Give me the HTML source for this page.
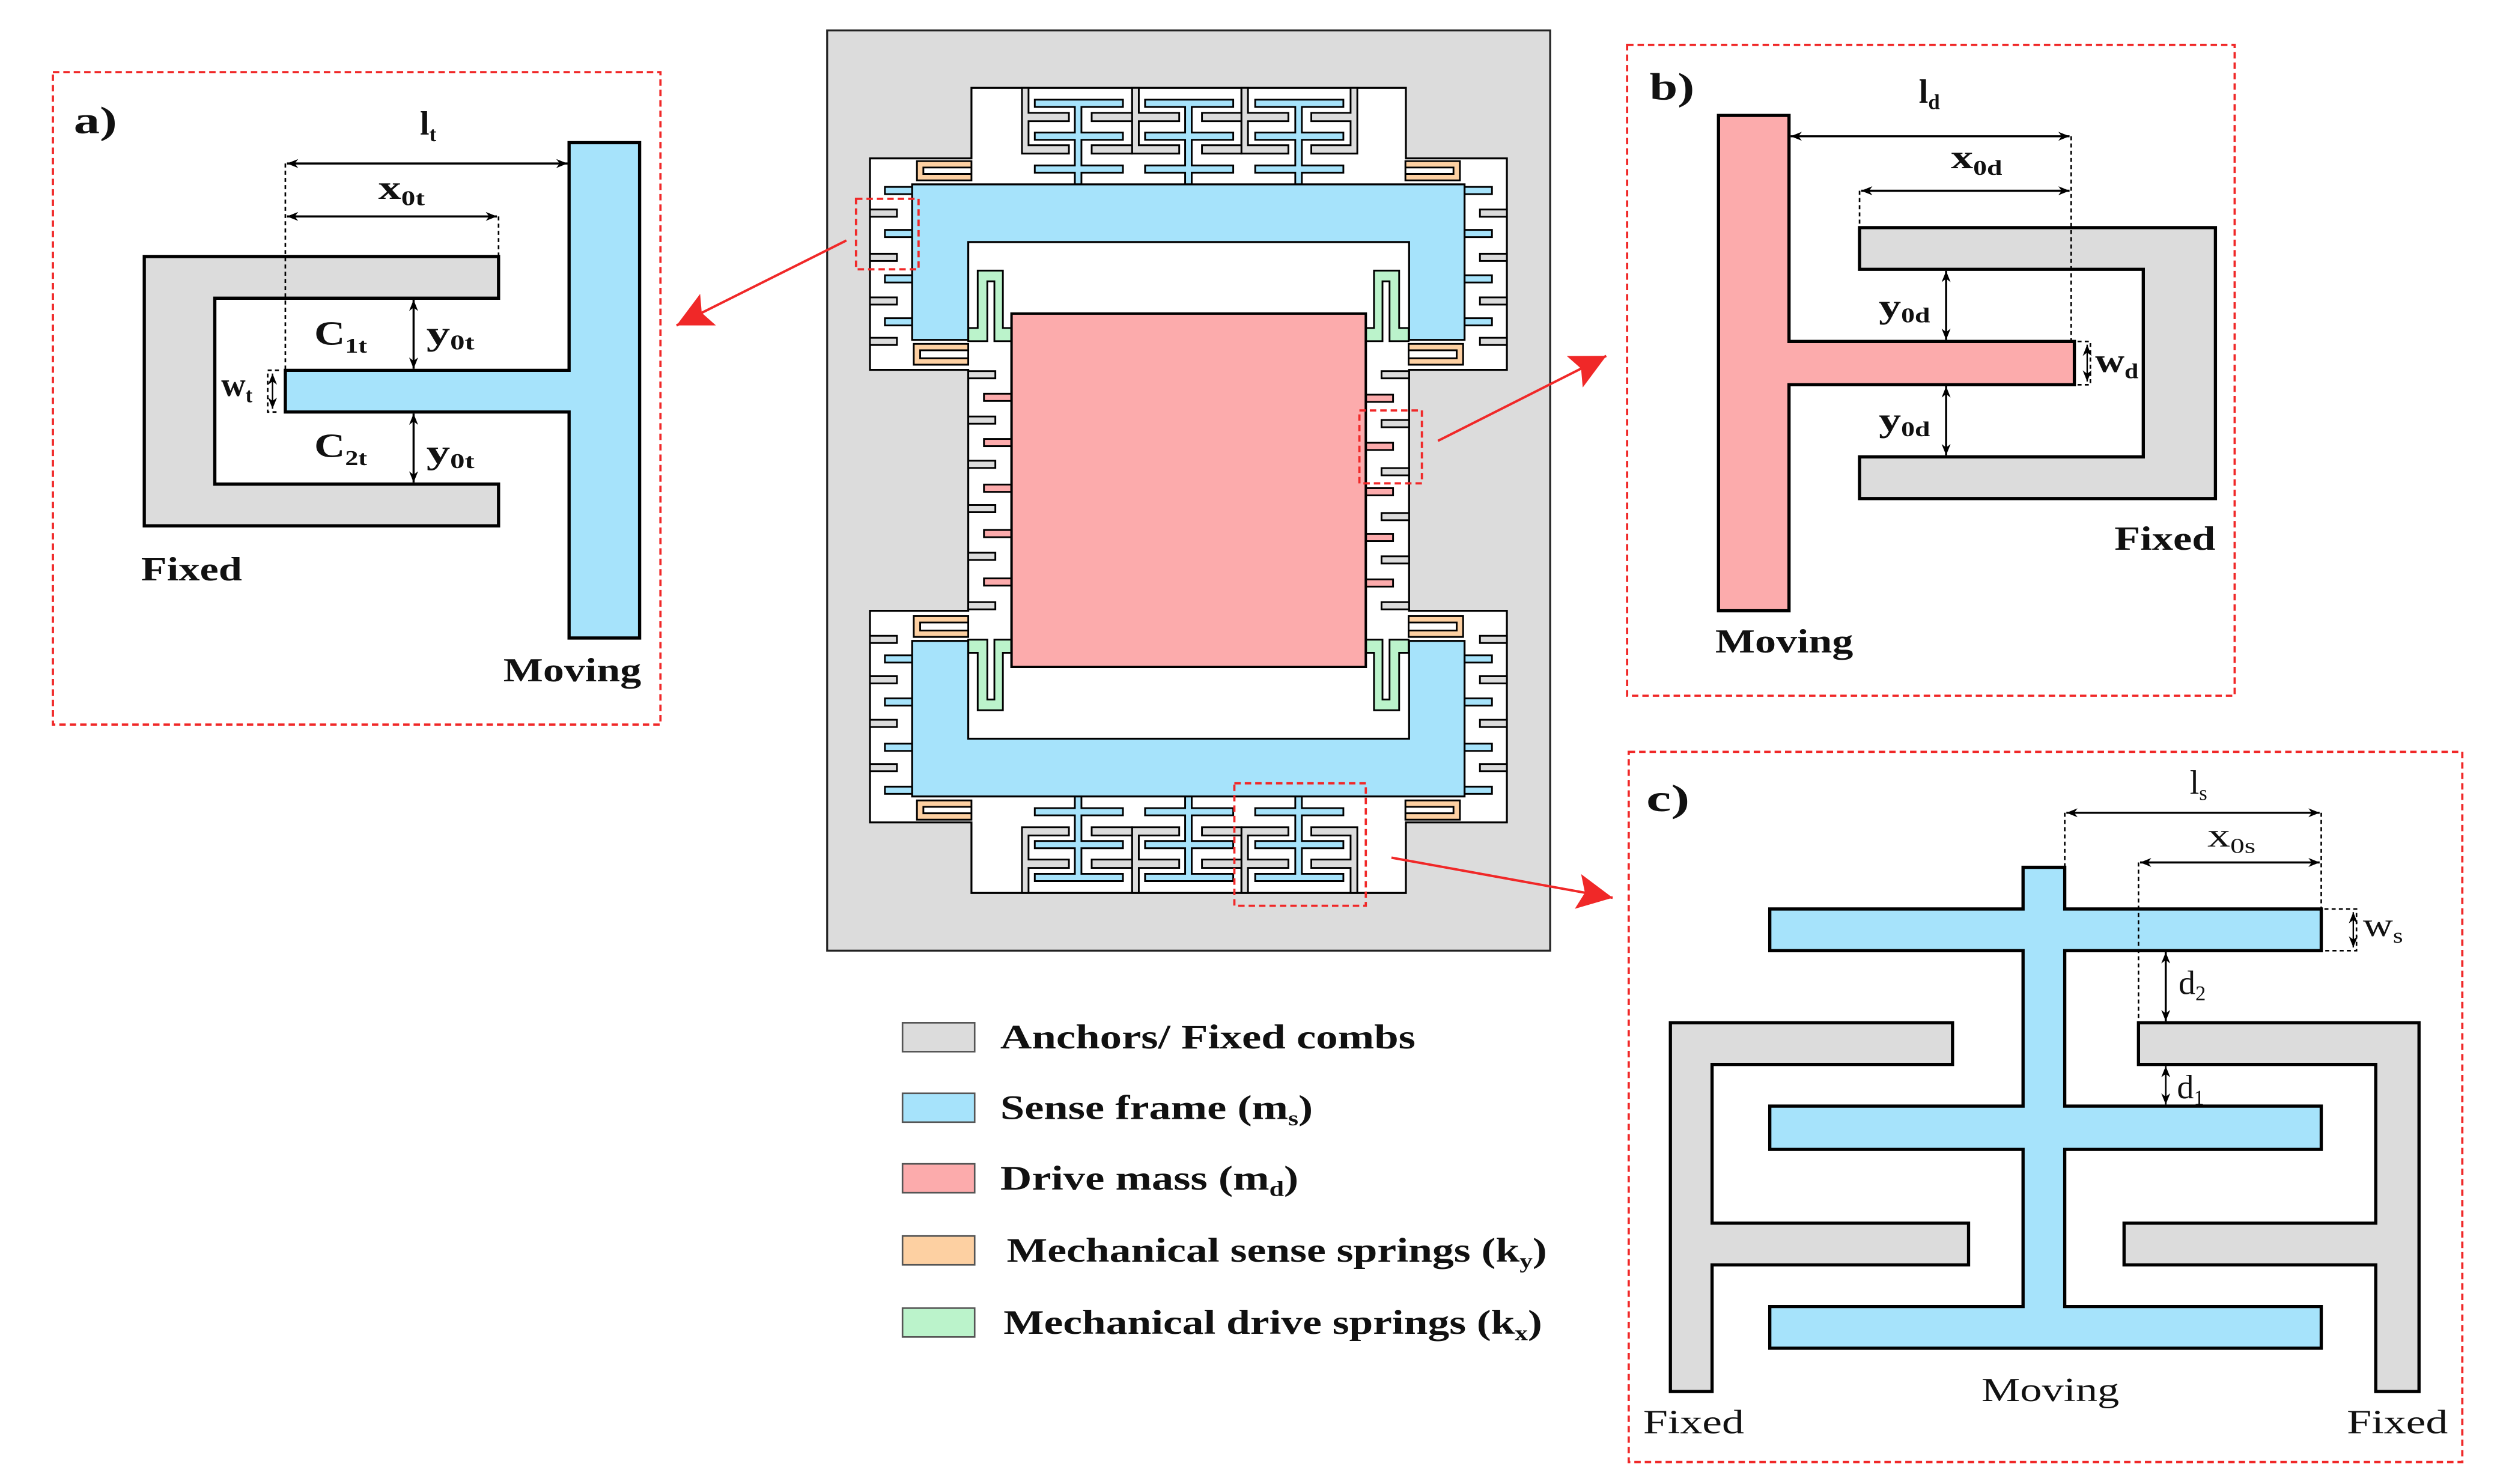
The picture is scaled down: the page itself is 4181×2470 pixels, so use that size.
<!DOCTYPE html>
<html><head><meta charset="utf-8"><style>
html,body{margin:0;padding:0;background:#fff;}
svg{display:block;}
text{font-family:"Liberation Serif","DejaVu Serif",serif;fill:#111;}
.b{font-weight:bold;}
</style></head><body>
<svg width="4181" height="2470" viewBox="0 0 1567 925.7" preserveAspectRatio="none" xmlns="http://www.w3.org/2000/svg">
<defs>
<marker id="ah" viewBox="0 0 10 10" refX="10" refY="5" markerWidth="7" markerHeight="7" orient="auto-start-reverse" markerUnits="userSpaceOnUse"><path d="M0,1 L10,5 L0,9 L3,5Z" fill="#000"/></marker>
<marker id="ra" viewBox="0 0 10 10" refX="10" refY="5" markerWidth="26" markerHeight="22" orient="auto" markerUnits="userSpaceOnUse"><path d="M0,0 L10,5 L0,10 L2,5Z" fill="#f02828"/></marker>
<g id="q" stroke="#000" stroke-width="1.1">
 <g fill="#a6e3fb">
  <rect x="552" y="116.6" width="17.3" height="4.5"/><rect x="552" y="143.4" width="17.3" height="4.5"/><rect x="552" y="171.7" width="17.3" height="4.5"/><rect x="552" y="198.5" width="17.3" height="4.5"/>
 </g>
 <g fill="#dcdcdc">
  <rect x="542.7" y="130.7" width="16.8" height="4.5"/><rect x="542.7" y="158.3" width="16.8" height="4.5"/><rect x="542.7" y="185.5" width="16.8" height="4.5"/><rect x="542.7" y="210.7" width="16.8" height="4.5"/>
 </g>
 <path fill="#fdd0a2" fill-rule="evenodd" d="M572,100.5H606V112.5H572Z M576,104.5H606V108.5H576Z"/>
 <path fill="#fdd0a2" fill-rule="evenodd" d="M570,214.5H604V227.5H570Z M574,218.5H604V223.5H574Z"/>
 <path fill="#bbf3cb" d="M604,204.6H609.9V168.8H625.6V204.6H631V212.8H620.3V175.5H615.9V212.8H604Z"/>
</g>
<g id="tc" stroke="#000" stroke-width="1.1">
 <g fill="#dcdcdc">
  <path d="M637.5,54.8H641.6V70.4H666.8V75.6H641.6V90.6H666.8V95.8H637.5Z"/>
  <path d="M706.2,54.8H710.4V70.4H735.6V75.6H710.4V90.6H735.6V95.8H706.2Z"/>
  <path d="M774.4,54.8H778.5V70.4H803.7V75.6H778.5V90.6H803.7V95.8H774.4Z"/>
  <path d="M706.2,54.8V95.8H681V90.6H706.2V75.6H681V70.4H706.2"/>
  <path d="M774.4,54.8V95.8H749.8V90.6H774.4V75.6H749.8V70.4H774.4"/>
  <path d="M842.5,54.8H846.7V95.8H818V90.6H842.5V75.6H818V70.4H842.5Z"/>
 </g>
 <g fill="#a6e3fb">
  <path d="M645.5,62.2H700.5V66.7H674.6V82.7H700.5V87.2H674.6V103.2H700.5V107.7H674.6V115H670.5V107.7H645.5V103.2H670.5V87.2H645.5V82.7H670.5V66.7H645.5Z"/>
  <path d="M714.3,62.2H769.3V66.7H743.4V82.7H769.3V87.2H743.4V103.2H769.3V107.7H743.4V115H739.3V107.7H714.3V103.2H739.3V87.2H714.3V82.7H739.3V66.7H714.3Z"/>
  <path d="M783,62.2H838V66.7H812.1V82.7H838V87.2H812.1V103.2H838V107.7H812.1V115H808V107.7H783V103.2H808V87.2H783V82.7H808V66.7H783Z"/>
 </g>
</g>
</defs>

<rect x="516" y="19" width="451" height="574" fill="#dcdcdc" stroke="#222" stroke-width="1.2"/>
<path d="M606,54.8H877V98.8H940V230.7H879V381H940V513H877V557H606V513H542.7V381H604V230.7H542.7V98.8H606Z" fill="#fff" stroke="#000" stroke-width="1.2"/>
<use href="#q"/>
<use href="#q" transform="translate(1482.7,0) scale(-1,1)"/>
<use href="#q" transform="translate(0,611.8) scale(1,-1)"/>
<use href="#q" transform="translate(1482.7,611.8) scale(-1,-1)"/>
<use href="#tc"/>
<use href="#tc" transform="translate(0,611.8) scale(1,-1)"/>
<path d="M569,115H913.6V212H879V151H604V212H569Z" fill="#a6e3fb" stroke="#000" stroke-width="1.2"/>
<path d="M569,496.8H913.6V399.8H879V460.8H604V399.8H569Z" fill="#a6e3fb" stroke="#000" stroke-width="1.2"/>
<g stroke="#000" stroke-width="1.1">
 <g fill="#dcdcdc">
  <rect x="604" y="231.5" width="16.9" height="4.5"/><rect x="604" y="259.8" width="16.9" height="4.5"/><rect x="604" y="287.4" width="16.9" height="4.5"/><rect x="604" y="315" width="16.9" height="4.5"/><rect x="604" y="344.8" width="16.9" height="4.5"/><rect x="604" y="375.6" width="16.9" height="4.5"/>
  <rect x="861.8" y="231.5" width="17.2" height="4.5"/><rect x="861.8" y="262" width="17.2" height="4.5"/><rect x="861.8" y="292" width="17.2" height="4.5"/><rect x="861.8" y="320" width="17.2" height="4.5"/><rect x="861.8" y="347" width="17.2" height="4.5"/><rect x="861.8" y="375.6" width="17.2" height="4.5"/>
 </g>
 <g fill="#fcabac">
  <rect x="613.8" y="245.6" width="17.2" height="4.5"/><rect x="613.8" y="273.8" width="17.2" height="4.5"/><rect x="613.8" y="302.3" width="17.2" height="4.5"/><rect x="613.8" y="330.6" width="17.2" height="4.5"/><rect x="613.8" y="360.8" width="17.2" height="4.5"/>
  <rect x="852" y="246.2" width="17" height="4.5"/><rect x="852" y="276.2" width="17" height="4.5"/><rect x="852" y="304.5" width="17" height="4.5"/><rect x="852" y="333" width="17" height="4.5"/><rect x="852" y="361.4" width="17" height="4.5"/>
 </g>
</g>
<rect x="631" y="195.6" width="221" height="220.4" fill="#fcabac" stroke="#000" stroke-width="1.5"/>
<g fill="none" stroke="#f02828" stroke-width="1.4" stroke-dasharray="4,2.5">
 <rect x="534" y="124" width="39" height="44"/>
 <rect x="848" y="256" width="39" height="45.5"/>
 <rect x="770" y="488.6" width="82" height="76.4"/>
 <rect x="33" y="45" width="379" height="407"/>
 <rect x="1015" y="28" width="379" height="406"/>
 <rect x="1016" y="469" width="520" height="443"/>
</g>
<g stroke="#f02828" stroke-width="1.5" fill="none">
 <line x1="528" y1="150" x2="422" y2="203" marker-end="url(#ra)"/>
 <line x1="897" y1="275" x2="1002" y2="222" marker-end="url(#ra)"/>
 <line x1="868" y1="535" x2="1006" y2="560" marker-end="url(#ra)"/>
</g>

<path d="M90,160H311V186H134V302H311V328H90Z" fill="#dcdcdc" stroke="#000" stroke-width="2"/>
<path d="M355,89H399V398H355V257H178V231H355Z" fill="#a6e3fb" stroke="#000" stroke-width="2"/>
<g stroke="#000" stroke-width="1" fill="none" stroke-dasharray="2.5,2">
 <line x1="178" y1="102" x2="178" y2="231"/><line x1="311" y1="135" x2="311" y2="160"/>
 <path d="M174,231H167V257H174"/>
</g>
<g stroke="#000" stroke-width="1.3">
 <line x1="179" y1="102" x2="354" y2="102" marker-start="url(#ah)" marker-end="url(#ah)"/>
 <line x1="179" y1="135" x2="310" y2="135" marker-start="url(#ah)" marker-end="url(#ah)"/>
 <line x1="258" y1="187" x2="258" y2="230" marker-start="url(#ah)" marker-end="url(#ah)"/>
 <line x1="258" y1="258" x2="258" y2="301" marker-start="url(#ah)" marker-end="url(#ah)"/>
 <line x1="170" y1="233" x2="170" y2="255" stroke-width="0.9" marker-start="url(#ah)" marker-end="url(#ah)"/>
</g>
<g class="b" font-size="21">
 <text x="46" y="83" font-size="24" textLength="27" lengthAdjust="spacingAndGlyphs">a)</text>
 <text x="262" y="84">l<tspan font-size="13" dy="4">t</tspan></text>
 <text x="236" y="124" textLength="29" lengthAdjust="spacingAndGlyphs">x<tspan font-size="13" dy="4">0t</tspan></text>
 <text x="196" y="215" textLength="33" lengthAdjust="spacingAndGlyphs">C<tspan font-size="13" dy="5">1t</tspan></text>
 <text x="266" y="215" textLength="30" lengthAdjust="spacingAndGlyphs">y<tspan font-size="13" dy="3">0t</tspan></text>
 <text x="196" y="285" textLength="33" lengthAdjust="spacingAndGlyphs">C<tspan font-size="13" dy="5">2t</tspan></text>
 <text x="266" y="289" textLength="30" lengthAdjust="spacingAndGlyphs">y<tspan font-size="13" dy="3">0t</tspan></text>
 <text x="138" y="247">w<tspan font-size="13" dy="4">t</tspan></text>
 <text x="88" y="362" textLength="63" lengthAdjust="spacingAndGlyphs">Fixed</text>
 <text x="314" y="425" textLength="86" lengthAdjust="spacingAndGlyphs">Moving</text>
</g>

<path d="M1160,142H1382V311H1160V285H1337V168H1160Z" fill="#dcdcdc" stroke="#000" stroke-width="2"/>
<path d="M1072,72H1116V213H1294V240H1116V381H1072Z" fill="#fcabac" stroke="#000" stroke-width="2"/>
<g stroke="#000" stroke-width="1" fill="none" stroke-dasharray="2.5,2">
 <line x1="1292" y1="85" x2="1292" y2="213"/><line x1="1160" y1="119" x2="1160" y2="142"/>
 <path d="M1296,213H1304V240H1296"/>
</g>
<g stroke="#000" stroke-width="1.3">
 <line x1="1117" y1="85" x2="1291" y2="85" marker-start="url(#ah)" marker-end="url(#ah)"/>
 <line x1="1161" y1="119" x2="1291" y2="119" marker-start="url(#ah)" marker-end="url(#ah)"/>
 <line x1="1214" y1="169" x2="1214" y2="212" marker-start="url(#ah)" marker-end="url(#ah)"/>
 <line x1="1214" y1="241" x2="1214" y2="284" marker-start="url(#ah)" marker-end="url(#ah)"/>
 <line x1="1302" y1="215" x2="1302" y2="238" stroke-width="0.9" marker-start="url(#ah)" marker-end="url(#ah)"/>
</g>
<g class="b" font-size="21">
 <text x="1029" y="62" font-size="24" textLength="28" lengthAdjust="spacingAndGlyphs">b)</text>
 <text x="1197" y="64">l<tspan font-size="13" dy="4">d</tspan></text>
 <text x="1217" y="105" textLength="32" lengthAdjust="spacingAndGlyphs">x<tspan font-size="13" dy="4">0d</tspan></text>
 <text x="1172" y="198" textLength="32" lengthAdjust="spacingAndGlyphs">y<tspan font-size="13" dy="3">0d</tspan></text>
 <text x="1172" y="269" textLength="32" lengthAdjust="spacingAndGlyphs">y<tspan font-size="13" dy="3">0d</tspan></text>
 <text x="1307" y="232" textLength="27" lengthAdjust="spacingAndGlyphs">w<tspan font-size="13" dy="4">d</tspan></text>
 <text x="1319" y="343" textLength="63" lengthAdjust="spacingAndGlyphs">Fixed</text>
 <text x="1070" y="407" textLength="86" lengthAdjust="spacingAndGlyphs">Moving</text>
</g>

<g stroke="#000" stroke-width="2">
 <path d="M1042,638H1218V664H1068V763H1228V789H1068V868H1042Z" fill="#dcdcdc"/>
 <path d="M1509,638H1334V664H1482V763H1325V789H1482V868H1509Z" fill="#dcdcdc"/>
 <path d="M1262,541H1288V567H1448V593H1288V690H1448V717H1288V815H1448V841H1104V815H1262V717H1104V690H1262V593H1104V567H1262Z" fill="#a6e3fb"/>
</g>
<g stroke="#000" stroke-width="1" fill="none" stroke-dasharray="2.5,2">
 <line x1="1288" y1="507" x2="1288" y2="541"/><line x1="1334" y1="538" x2="1334" y2="638"/><line x1="1448" y1="507" x2="1448" y2="567"/>
 <path d="M1450,567H1470V593H1450"/>
</g>
<g stroke="#000" stroke-width="1.3">
 <line x1="1289" y1="507" x2="1447" y2="507" marker-start="url(#ah)" marker-end="url(#ah)"/>
 <line x1="1335" y1="538" x2="1447" y2="538" marker-start="url(#ah)" marker-end="url(#ah)"/>
 <line x1="1351" y1="594" x2="1351" y2="637" marker-start="url(#ah)" marker-end="url(#ah)"/>
 <line x1="1351" y1="665" x2="1351" y2="689" stroke-width="1" marker-start="url(#ah)" marker-end="url(#ah)"/>
 <line x1="1468" y1="569" x2="1468" y2="591" stroke-width="0.9" marker-start="url(#ah)" marker-end="url(#ah)"/>
</g>
<g font-size="21">
 <text x="1027" y="506" font-size="24" class="b" textLength="27" lengthAdjust="spacingAndGlyphs">c)</text>
 <text x="1366" y="495">l<tspan font-size="13" dy="4">s</tspan></text>
 <text x="1377" y="528" textLength="30" lengthAdjust="spacingAndGlyphs">x<tspan font-size="13" dy="4">0s</tspan></text>
 <text x="1474" y="584" textLength="25" lengthAdjust="spacingAndGlyphs">w<tspan font-size="13" dy="4">s</tspan></text>
 <text x="1359" y="620">d<tspan font-size="13" dy="4">2</tspan></text>
 <text x="1358" y="685">d<tspan font-size="13" dy="4">1</tspan></text>
 <text x="1236" y="874" textLength="86" lengthAdjust="spacingAndGlyphs">Moving</text>
 <text x="1025" y="894" textLength="63" lengthAdjust="spacingAndGlyphs">Fixed</text>
 <text x="1464" y="894" textLength="63" lengthAdjust="spacingAndGlyphs">Fixed</text>
</g>

<g stroke="#555" stroke-width="1">
 <rect x="563" y="638" width="45" height="18" fill="#dcdcdc"/>
 <rect x="563" y="682" width="45" height="18" fill="#a6e3fb"/>
 <rect x="563" y="726" width="45" height="18" fill="#fcabac"/>
 <rect x="563" y="771" width="45" height="18" fill="#fdd0a2"/>
 <rect x="563" y="816" width="45" height="18" fill="#bbf3cb"/>
</g>
<g class="b" font-size="21.5">
 <text x="624" y="654" textLength="259" lengthAdjust="spacingAndGlyphs">Anchors/ Fixed combs</text>
 <text x="624" y="698" textLength="195" lengthAdjust="spacingAndGlyphs">Sense frame (m<tspan font-size="13" dy="4">s</tspan><tspan dy="-4">)</tspan></text>
 <text x="624" y="742" textLength="186" lengthAdjust="spacingAndGlyphs">Drive mass (m<tspan font-size="13" dy="4">d</tspan><tspan dy="-4">)</tspan></text>
 <text x="628" y="787" textLength="337" lengthAdjust="spacingAndGlyphs">Mechanical sense springs (k<tspan font-size="13" dy="4">y</tspan><tspan dy="-4">)</tspan></text>
 <text x="626" y="832" textLength="336" lengthAdjust="spacingAndGlyphs">Mechanical drive springs (k<tspan font-size="13" dy="4">x</tspan><tspan dy="-4">)</tspan></text>
</g>
</svg>
</body></html>
